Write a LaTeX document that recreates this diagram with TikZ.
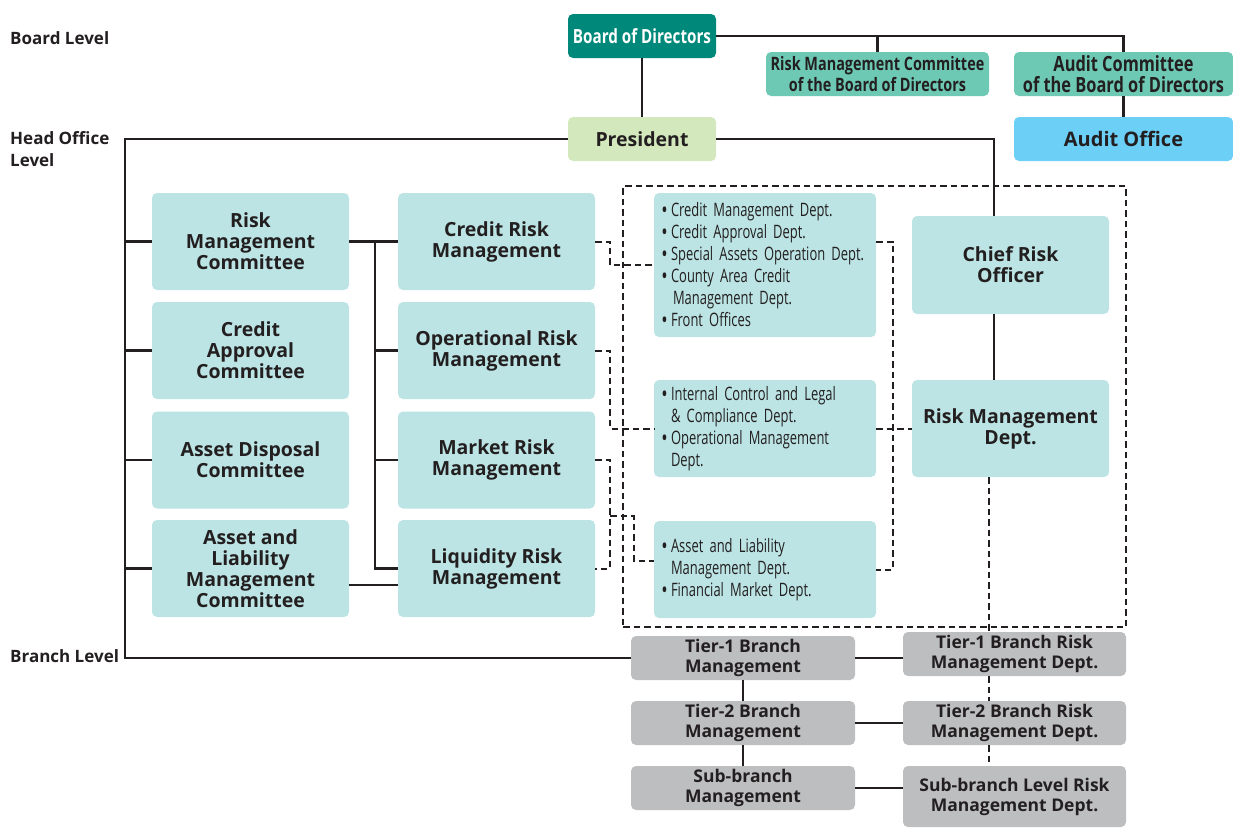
\documentclass[tikz,border=0pt]{standalone}
\usepackage{fontspec}
\setmainfont{Open Sans}
\newfontfamily\condfont{Open Sans}[FakeStretch=0.78]
\newfontfamily\narrowfont{Open Sans}[FakeStretch=0.70]
\definecolor{txt}{HTML}{231F20}
\definecolor{bodc}{HTML}{00897A}
\definecolor{cmtc}{HTML}{6EC9B4}
\definecolor{presc}{HTML}{D3E8BD}
\definecolor{audc}{HTML}{6BCFF6}
\definecolor{cyanc}{HTML}{BCE4E4}
\definecolor{grayc}{HTML}{BDBEC0}
\newcommand\bul{\makebox[9pt][l]{\bfseries\textbullet}}
\newcommand\ind{\hspace*{9pt}}
\begin{document}
\begin{tikzpicture}[x=1pt,y=-1pt,
  base/.style={rounded corners=5pt, inner sep=0pt, align=center, text=txt},
  sz/.style 2 args={minimum width=#1pt, minimum height=#2pt},
  cbox/.style={base, fill=cyanc, font={\fontsize{19.5}{21}\selectfont\bfseries}},
  gbox/.style={base, fill=grayc, font={\fontsize{17.5}{20}\selectfont\bfseries}},
  dbox/.style={base, fill=cyanc, align=left, inner xsep=8pt, text width=206pt,
    font={\narrowfont\fontsize{18.5}{22}\selectfont}},
  tbox/.style={base, fill=cmtc, font={\condfont\fontsize{18.5}{21}\selectfont\bfseries}},
  lvl/.style={anchor=west, align=left, inner sep=0pt, text=txt,
    font={\fontsize{17}{22}\selectfont\bfseries}},
  conn/.style={draw=txt, line width=2.2pt},
  dsh/.style={draw=txt, line width=2pt, dash pattern=on 6.5pt off 4pt}]
\useasboundingbox (0,0) rectangle (1233,827);

% level labels
\node[lvl] (lb) at (10,38) {Board Level};
\node[lvl] (lh) at (10,149) {Head Office\\Level};
\node[lvl] (lbr) at (10,656) {Branch Level};

% board level
\node[base, fill=bodc, sz={148}{44}, text=white, font={\condfont\fontsize{19.5}{21}\selectfont\bfseries}] (bod) at (642,36) {Board of Directors};
\node[tbox, sz={223}{44}] (rmcb) at (877.5,74) {Risk Management Committee\\of the Board of Directors};
\node[tbox, sz={219}{44}, font={\condfont\fontsize{21}{21}\selectfont\bfseries}] (acb) at (1123.5,74) {Audit Committee\\of the Board of Directors};
\node[base, fill=presc, sz={148}{44}, font={\fontsize{19.5}{21}\selectfont\bfseries}] (pres) at (642,139) {President};
\node[base, fill=audc, sz={219}{44}, font={\fontsize{20}{21}\selectfont\bfseries}] (ao) at (1123.5,139) {Audit Office};

% dashed frame
\node[dsh, sz={503}{441}, inner sep=0pt] (frame) at (874.5,406.5) {};

% left committees
\node[cbox, sz={197}{97}] (rmc) at (250.5,241.5) {Risk\\Management\\Committee};
\node[cbox, sz={197}{97}] (cac) at (250.5,350.5) {Credit\\Approval\\Committee};
\node[cbox, sz={197}{97}] (adc) at (250.5,460) {Asset Disposal\\Committee};
\node[cbox, sz={197}{97}] (alm) at (250.5,568.5) {Asset and\\Liability\\Management\\Committee};

% middle
\node[cbox, sz={197}{97}] (crm) at (496.5,241.5) {Credit Risk\\Management};
\node[cbox, sz={197}{97}] (orm) at (496.5,350.5) {Operational Risk\\Management};
\node[cbox, sz={197}{97}] (mrm) at (496.5,460) {Market Risk\\Management};
\node[cbox, sz={197}{97}] (lrm) at (496.5,568.5) {Liquidity Risk\\Management};

% departments
\node[dbox, sz={222}{144}] (d1) at (765,265) {\bul Credit Management Dept.\\\bul Credit Approval Dept.\\\bul Special Assets Operation Dept.\\\bul County Area Credit\\\ind\hspace*{2pt}Management Dept.\\\bul Front Offices};
\node[dbox, sz={222}{97}] (d2) at (765,428.5) {\bul Internal Control and Legal\\\ind \& Compliance Dept.\\\bul Operational Management\\\ind Dept.};
\node[dbox, sz={222}{97}] (d3) at (765,569.5) {\bul Asset and Liability\\\ind Management Dept.\\\bul Financial Market Dept.};

% right column
\node[cbox, sz={197}{98}] (cro) at (1010.5,265) {Chief Risk\\Officer};
\node[cbox, sz={197}{97}] (rmd) at (1010.5,428.5) {Risk Management\\Dept.};

% branch level
\node[gbox, sz={224}{44}] (t1) at (743,658) {Tier-1 Branch\\Management};
\node[gbox, sz={224}{44}] (t2) at (743,723) {Tier-2 Branch\\Management};
\node[gbox, sz={224}{44}] (sb) at (743,788) {Sub-branch\\Management};
\node[gbox, sz={223}{44}] (r1) at (1014.5,654) {Tier-1 Branch Risk\\Management Dept.};
\node[gbox, sz={223}{44}] (r2) at (1014.5,723) {Tier-2 Branch Risk\\Management Dept.};
\node[gbox, sz={223}{61}] (sr) at (1014.5,796.5) {Sub-branch Level Risk\\Management Dept.};

% helper coordinates
\coordinate (busL) at (125,0);
\coordinate (busM) at (375,0);
\coordinate (crox) at (994,0);
\coordinate (rmdx) at (989,0);
\coordinate (dxL) at (610,0);
\coordinate (dxR) at (893,0);
\coordinate (jL) at (610,516);
\coordinate (jB) at (634,561);

% board connectors
\draw[conn] (bod.east) -| (acb.north);
\draw[conn] (rmcb.north |- bod.east) -- (rmcb.north);
\draw[conn] (bod.south) -- (pres.north);
\draw[conn] (acb.south) -- (ao.north);

% president connectors
\draw[conn] (pres.west) -| (busL |- t1.west) -- (t1.west);
\draw[conn] (pres.east) -| (crox |- cro.north);
\draw[conn] (crox |- cro.south) -- (crox |- rmd.north);

% left bus
\draw[conn] (busL |- rmc.west) -- (rmc.west);
\draw[conn] (busL |- cac.west) -- (cac.west);
\draw[conn] (busL |- adc.west) -- (adc.west);
\draw[conn] (busL |- alm.west) -- (alm.west);

% middle bus
\draw[conn] (rmc.east) -- (crm.west);
\draw[conn] (busM |- crm.west) |- (lrm.west);
\draw[conn] (busM |- orm.west) -- (orm.west);
\draw[conn] (busM |- mrm.west) -- (mrm.west);
\draw[conn] ([yshift=-16.5pt]alm.east) -- ([yshift=-16.5pt]lrm.west);

% dashed to departments
\draw[dsh] (crm.east) -| (dxL |- d1.west) -- (d1.west);
\draw[dsh] (orm.east) -| (dxL |- d2.west) -- (d2.west);
\draw[dsh] (mrm.east) -| (dxL |- lrm.east) -- (lrm.east);
\draw[dsh] (jL) -| (jB) -- (jB -| d3.west);
\draw[dsh] (d1.east |- crm.east) -| (dxR |- d3.east) -- (d3.east);
\draw[dsh] (d2.east) -- (rmd.west);
\draw[dsh] (rmdx |- rmd.south) -- (rmdx |- r1.north);

% branch connectors
\draw[conn] (t1.east) -- (t1.east -| r1.west);
\draw[conn] (t2.east) -- (r2.west);
\draw[conn] (sb.east) -- (sb.east -| sr.west);
\draw[conn] (t1.south) -- (t2.north);
\draw[conn] (t2.south) -- (sb.north);
\draw[dsh] (rmdx |- r1.south) -- (rmdx |- r2.north);
\draw[dsh] (rmdx |- r2.south) -- (rmdx |- sr.north);
\end{tikzpicture}
\end{document}
